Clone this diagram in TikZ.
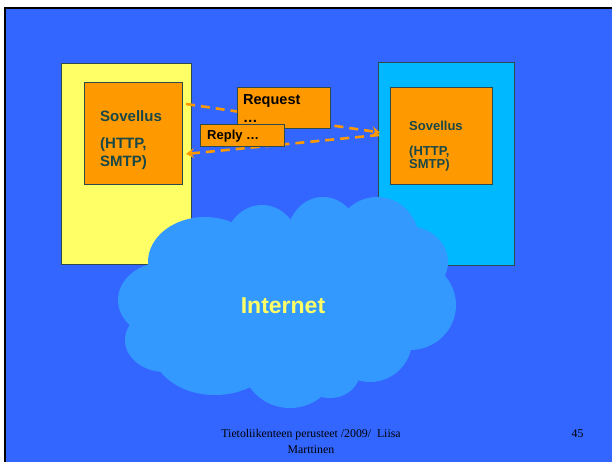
\documentclass[tikz,border=0pt]{standalone}
\usepackage{fontspec}
\setmainfont{Liberation Sans}
\newfontfamily\footfont{Liberation Serif}
\usetikzlibrary{arrows.meta}
\definecolor{slide}{HTML}{3366FF}
\definecolor{hostyellow}{HTML}{FFFF66}
\definecolor{hostcyan}{HTML}{00B8FF}
\definecolor{appfill}{HTML}{FF9900}
\definecolor{apptext}{HTML}{184848}
\definecolor{edge}{HTML}{2E4A4A}
\definecolor{cloudblue}{HTML}{3399FF}
\definecolor{nettext}{HTML}{FFFF66}
\tikzset{
  box/.style={draw=edge, line width=0.8pt, anchor=north west, inner sep=0pt, outer sep=0pt},
  apptxt/.style={anchor=base west, inner sep=0pt, text=apptext, font=\bfseries\fontsize{#1}{#1}\selectfont},
  msgtxt/.style={anchor=base west, inner sep=0pt, text=black, font=\bfseries\fontsize{#1}{#1}\selectfont},
  msgline/.style={draw=appfill, line width=2.6pt, dash pattern=on 9pt off 6pt,
    -{Stealth[length=8pt,width=10pt,inset=3pt]}},
  foottxt/.style={anchor=base, inner sep=0pt, font=\footfont\fontsize{11.8}{13}\selectfont}
}
\begin{document}
\begin{tikzpicture}[x=1pt,y=-1pt]
\useasboundingbox (0,0) rectangle (612,462);
% slide background with its dark top and left border
\fill[white] (0,0) rectangle (612,462);
\fill[slide] (5,8) rectangle (612,462);
\draw[black, line width=2pt] (5,462) -- (5,8) -- (612,8);

% the two hosts
\node[box, fill=hostyellow, minimum width=130pt, minimum height=201pt] (hostL) at (61,63) {};
\node[box, fill=hostcyan, minimum width=136pt, minimum height=203pt] (hostR) at (378,62) {};

% the Internet cloud
\begin{scope}[fill=cloudblue]
  \fill (285,305) ellipse [x radius=130, y radius=82];
  \fill (205,262) ellipse [x radius=57, y radius=45];
  \fill (262,248) ellipse [x radius=38, y radius=43];
  \fill (323,237) ellipse [x radius=36, y radius=40];
  \fill (377,240) ellipse [x radius=42, y radius=43];
  \fill (407,262) ellipse [x radius=41, y radius=36];
  \fill (410,305) ellipse [x radius=46, y radius=45];
  \fill (370,340) ellipse [x radius=42, y radius=42];
  \fill (330,372) ellipse [x radius=30, y radius=26];
  \fill (290,362) ellipse [x radius=48, y radius=46];
  \fill (215,350) ellipse [x radius=62, y radius=45];
  \fill (165,340) ellipse [x radius=40, y radius=32];
  \fill (165,300) ellipse [x radius=47, y radius=38];
\end{scope}
\node[inner sep=0pt, text=nettext, font=\bfseries\fontsize{23}{23}\selectfont] (net) at (283,306) {Internet};

% application boxes
\node[box, fill=appfill, minimum width=98pt, minimum height=102pt] (appL) at (84,82) {};
\node[box, fill=appfill, minimum width=102pt, minimum height=97pt] (appR) at (390,87) {};
\node[apptxt=15] (appL1) at (100,122) {Sovellus};
\node[apptxt=15] (appL2) at (100,149) {(HTTP,};
\node[apptxt=15] (appL3) at (100,167) {SMTP)};
\node[apptxt=13] (appR1) at (409,131) {Sovellus};
\node[apptxt=13] (appR2) at (409,155.5) {(HTTP,};
\node[apptxt=13] (appR3) at (409,169) {SMTP)};

% request / reply messages
\coordinate (reqS) at (186,104);
\coordinate (reqE) at (380,132.5);
\coordinate (repS) at (379,135);
\coordinate (repE) at (186,154);
\draw[msgline] (reqS) -- (reqE);
\draw[msgline] (repS) -- (repE);
\node[box, fill=appfill, minimum width=93pt, minimum height=41pt] (reqBox) at (237,87) {};
\node[msgtxt=14.5] (req1) at (243,105) {Request};
\node[msgtxt=14.5] (req2) at (243,122.5) {\dots};
\node[box, fill=appfill, minimum width=84pt, minimum height=22pt] (repBox) at (200,124) {};
\node[msgtxt=13] (rep1) at (207,140) {Reply \dots};

% footer
\node[foottxt] (foot1) at (311,437) {Tietoliikenteen perusteet /2009/~~Liisa};
\node[foottxt] (foot2) at (311,453) {Marttinen};
\node[foottxt] (page) at (577.5,437) {45};
\end{tikzpicture}
\end{document}
